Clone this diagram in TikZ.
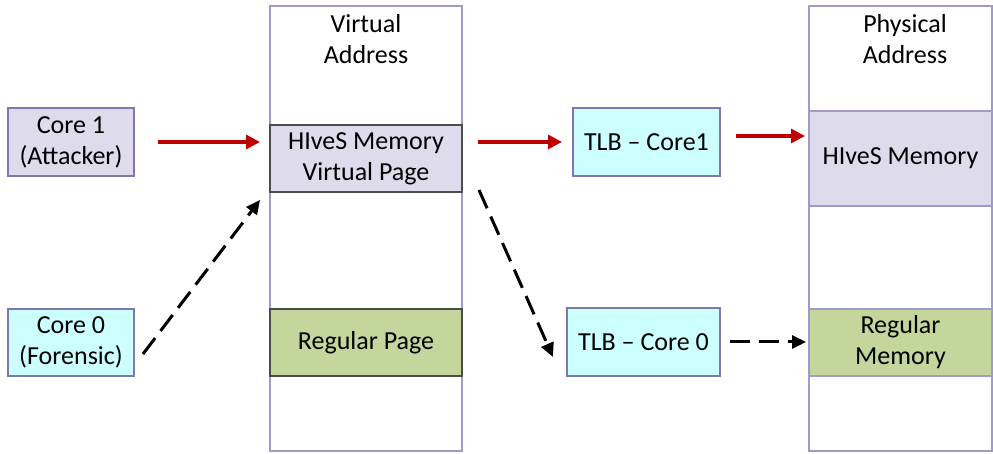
\documentclass[tikz,border=0pt]{standalone}
\usepackage{fontspec}
\setmainfont{Carlito}
\usepackage{xcolor}
\usepackage{tikz}
\usetikzlibrary{arrows.meta, positioning, calc}
\definecolor{hivesgray}{RGB}{222, 220, 236}
\definecolor{coreborder}{RGB}{128, 118, 178}
\definecolor{tlbcyan}{RGB}{204, 255, 255}
\definecolor{pagegreen}{RGB}{195, 214, 155}
\definecolor{colborder}{RGB}{160, 154, 200}
\definecolor{attackred}{RGB}{192, 0, 0}

\begin{document}
\begin{tikzpicture}[
    x=0.5pt, y=-0.5pt,
    every node/.style={font=\fontsize{13}{15.5}\selectfont, inner sep=0pt, outer sep=0pt},
    block/.style={rectangle, draw=coreborder, line width=0.6pt, align=center},
    column/.style={rectangle, draw=colborder, line width=0.6pt, fill=white, minimum width=#1, minimum height=222.5pt},
    page/.style={rectangle, draw=black!70, line width=0.6pt, align=center},
    redarrow/.style={-{Triangle[length=7pt, width=7pt]}, attackred, line width=1.6pt},
    dasharrow/.style={-{Triangle[length=7pt, width=6.5pt]}, black, line width=1.5pt, dash pattern=on 10pt off 4.5pt}
]
\useasboundingbox (0,0) rectangle (993,454);

% Address columns
\node[column=96pt] (vcol) at (366,228.5) {};
\node[column=91.5pt] (pcol) at (900.5,228.5) {};
\node[align=center] (vtitle) at (366,39) {Virtual\\Address};
\node[align=center] (ptitle) at (905,39) {Physical\\Address};

% Cores
\node[block, fill=hivesgray, minimum width=63pt, minimum height=34pt] (core1) at (71,142) {Core 1\\(Attacker)};
\node[block, fill=tlbcyan, minimum width=63pt, minimum height=33.5pt] (core0) at (71,342.5) {Core 0\\(Forensic)};

% Virtual pages
\node[page, fill=hivesgray, minimum width=96pt, minimum height=33.5pt] (vpage) at (366,158.5) {HIveS Memory\\Virtual Page};
\node[page, fill=pagegreen, minimum width=96pt, minimum height=33.5pt] (rpage) at (366,342.5) {Regular Page};

% TLBs
\node[block, fill=tlbcyan, minimum width=73.5pt, minimum height=34pt] (tlb1) at (646.5,142) {TLB -- Core1};
\node[block, fill=tlbcyan, minimum width=76.5pt, minimum height=34pt] (tlb0) at (643.5,342) {TLB -- Core 0};

% Physical memory
\node[block, fill=hivesgray, draw=colborder, minimum width=91.5pt, minimum height=47.5pt] (hmem) at (900.5,158.5) {HIveS Memory};
\node[block, fill=pagegreen, draw=colborder, minimum width=91.5pt, minimum height=33.5pt] (rmem) at (900.5,342.5) {Regular\\Memory};

% Attacker path
\draw[redarrow, shorten <=12pt, shorten >=5pt] (core1.east) -- (core1.east -| vpage.west);
\draw[redarrow, shorten <=8pt, shorten >=5.5pt] (vpage.east |- tlb1.west) -- (tlb1.west);
\coordinate (t1out) at ($(tlb1.east)+(0,-6)$);
\draw[redarrow, shorten <=8pt, shorten >=2pt] (t1out) -- (t1out -| hmem.west);

% Forensic path
\coordinate (c0out) at ($(core0.east)+(9,11.5)$);
\coordinate (vin) at ($(vpage.south west)+(-10,8)$);
\coordinate (vout) at ($(vpage.south east)+(17,-2)$);
\coordinate (t0in) at ($(tlb0.west)+(-14,15)$);
\draw[dasharrow] (c0out) -- (vin);
\draw[dasharrow] (vout) -- (t0in);
\draw[dasharrow, shorten <=5pt, shorten >=1.5pt] (tlb0.east) -- (tlb0.east -| rmem.west);

\end{tikzpicture}
\end{document}
